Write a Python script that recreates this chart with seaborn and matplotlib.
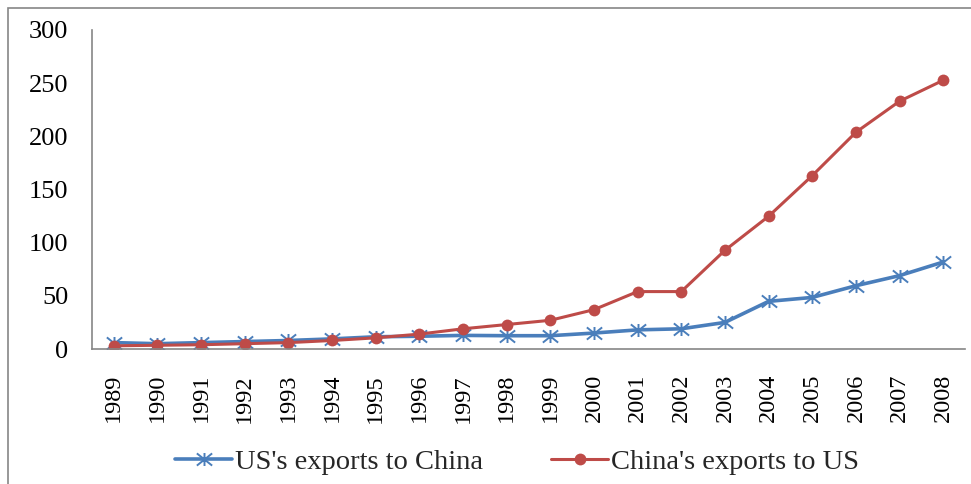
import matplotlib
matplotlib.use("Agg")
import matplotlib.pyplot as plt
import seaborn as sns
import pandas as pd
import numpy as np
from matplotlib.path import Path
from matplotlib.patches import Rectangle

years = [str(y) for y in range(1989, 2009)]
us_exports = [6, 5, 6, 7, 8, 9.5, 11.5, 12, 12.8, 12.5, 12.5, 15, 18, 19, 25, 44.8, 48.5, 59.5, 69, 81.8]
china_exports = [3, 3.5, 4, 5, 6, 8, 10.5, 14, 19, 23, 27, 37, 54, 54, 92.8, 124.8, 163, 203.8, 233, 252.7]
series_names = ["US's exports to China", "China's exports to US"]
y_ticks = [0, 50, 100, 150, 200, 250, 300]

sns.set_theme(style="white")
plt.rcParams['font.family'] = ['Liberation Serif', 'DejaVu Serif']

blue = "#4A7EBB"
red = "#BE4B48"

star = Path([(0, -0.85), (0, 0.85), (-1, -0.8), (1, 0.8), (-1, 0.8), (1, -0.8)],
            [Path.MOVETO, Path.LINETO, Path.MOVETO, Path.LINETO, Path.MOVETO, Path.LINETO])

fig = plt.figure(figsize=(9.71, 4.84), dpi=100)
ax = fig.add_axes([92/971, 1 - 349/484, (965 - 92)/971, (349 - 30)/484])

idx = np.arange(len(years))
df = pd.DataFrame({"idx": idx, "us": us_exports, "cn": china_exports})

sns.lineplot(data=df, x="idx", y="us", ax=ax, color=blue, linewidth=2.6,
             marker=star, markersize=11, markeredgewidth=1.4, markeredgecolor=blue,
             markerfacecolor="none", label=series_names[0])
sns.lineplot(data=df, x="idx", y="cn", ax=ax, color=red, linewidth=2.2,
             marker="o", markersize=8.5, markeredgewidth=0, markerfacecolor=red,
             label=series_names[1])

ax.set_xlim(-0.5, len(years) - 0.5)
ax.set_ylim(0, 300)
ax.set_yticks(y_ticks)
ax.set_yticklabels([str(t) for t in y_ticks], fontsize=19)
ax.set_xticks(idx)
ax.set_xticklabels(years, rotation=90, fontsize=17.5)
ax.set_xlabel("")
ax.set_ylabel("")
ax.tick_params(axis='both', length=0, colors="black")
ax.tick_params(axis='x', pad=18)
ax.tick_params(axis='y', pad=17)
for s in ["top", "right"]:
    ax.spines[s].set_visible(False)
for s in ["left", "bottom"]:
    ax.spines[s].set_color("#868686")
    ax.spines[s].set_linewidth(1.2)

leg = ax.legend(loc="center", bbox_to_anchor=(0.487, -0.355), bbox_transform=ax.transAxes,
                ncol=2, frameon=False, fontsize=20.5, handlelength=2.0, handletextpad=0.1,
                columnspacing=2.4)

fig.patches.append(Rectangle((8/971, -0.05), 1.2, 1 - 8/484 + 0.05, transform=fig.transFigure,
                             fill=False, edgecolor="#868686", linewidth=1.2))

fig.savefig("out.png", dpi=100)
